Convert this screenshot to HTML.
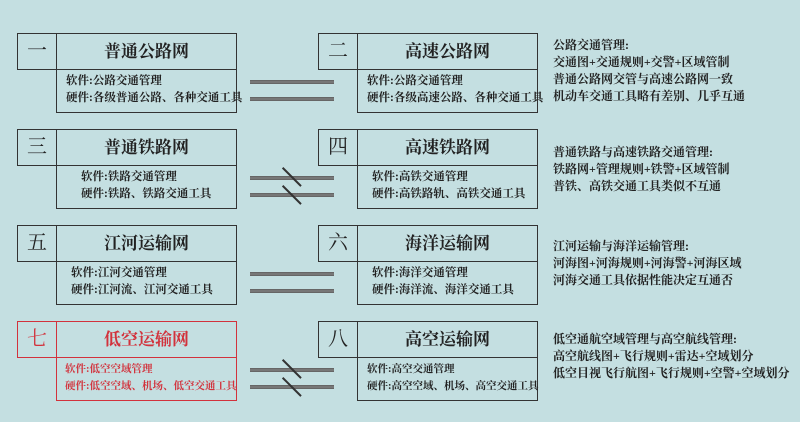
<!DOCTYPE html><html><head><meta charset="utf-8"><style>
body{margin:0;width:800px;height:422px;background:#c4dfe1;position:relative;overflow:hidden;font-family:"Liberation Serif","Noto Serif CJK SC",serif;color:#222}
.n{position:absolute;width:40px;height:37px;border:1.5px solid #333;box-sizing:border-box;font-size:20px;text-align:center;line-height:35px}
.h{position:absolute;width:181px;height:37px;border:1.5px solid #333;box-sizing:border-box;font-size:17px;font-weight:bold;text-align:center;line-height:35px}
.b{position:absolute;width:181px;height:44px;border:1.5px solid #333;border-top:none;box-sizing:border-box;font-size:11.5px;font-weight:bold;line-height:17px;padding:4px 0 0 9px;white-space:nowrap}
.r{color:#d2323c;border-color:#d2323c}
.l{position:absolute;left:250px;width:84px;height:4px;background:#777;border-top:1px solid #666;border-bottom:1px solid #666;box-sizing:border-box}
.s{position:absolute;width:26px;height:1.5px;background:#333;transform:rotate(45deg)}
.t{position:absolute;left:553px;font-size:12px;font-weight:bold;line-height:17px;white-space:nowrap}
</style></head><body>
<div class="n" style="left:17px;top:33px">一</div><div class="h" style="left:56px;top:33px">普通公路网</div>
<div class="b" style="left:56px;top:69px">软件:公路交通管理<br>硬件:各级普通公路、各种交通工具</div>
<div class="n" style="left:318px;top:33px">二</div><div class="h" style="left:357px;top:33px">高速公路网</div>
<div class="b" style="left:357px;top:69px">软件:公路交通管理<br>硬件:各级高速公路、各种交通工具</div>
<div class="l" style="top:80px"></div><div class="l" style="top:97px"></div>
<div class="n" style="left:17px;top:129px">三</div><div class="h" style="left:56px;top:129px">普通铁路网</div>
<div class="b" style="left:56px;top:165px;padding-left:24px">软件:铁路交通管理<br>硬件:铁路、铁路交通工具</div>
<div class="n" style="left:318px;top:129px">四</div><div class="h" style="left:357px;top:129px">高速铁路网</div>
<div class="b" style="left:357px;top:165px;padding-left:14px">软件:高铁交通管理<br>硬件:高铁路轨、高铁交通工具</div>
<div class="l" style="top:176px"></div><div class="l" style="top:193px"></div>
<div class="s" style="left:279px;top:176px"></div><div class="s" style="left:279px;top:194px"></div>
<div class="n" style="left:17px;top:225px">五</div><div class="h" style="left:56px;top:225px">江河运输网</div>
<div class="b" style="left:56px;top:261px;padding-left:14px">软件:江河交通管理<br>硬件:江河流、江河交通工具</div>
<div class="n" style="left:318px;top:225px">六</div><div class="h" style="left:357px;top:225px">海洋运输网</div>
<div class="b" style="left:357px;top:261px;padding-left:14px">软件:海洋交通管理<br>硬件:海洋流、海洋交通工具</div>
<div class="l" style="top:272px"></div><div class="l" style="top:289px"></div>
<div class="n r" style="left:17px;top:321px">七</div><div class="h r" style="left:56px;top:321px">低空运输网</div>
<div class="b r" style="left:56px;top:357px;font-size:10.5px;padding-left:8px">软件:低空空域管理<br>硬件:低空空域、机场、低空交通工具</div>
<div class="n" style="left:318px;top:321px">八</div><div class="h" style="left:357px;top:321px">高空运输网</div>
<div class="b" style="left:357px;top:357px;font-size:10.5px">软件:高空交通管理<br>硬件:高空空域、机场、高空交通工具</div>
<div class="l" style="top:368px"></div><div class="l" style="top:385px"></div>
<div class="s" style="left:279px;top:368px"></div><div class="s" style="left:279px;top:386px"></div>
<div class="t" style="top:37px">公路交通管理:<br>交通图+交通规则+交警+区域管制<br>普通公路网交管与高速公路网一致<br>机动车交通工具略有差别、几乎互通</div>
<div class="t" style="top:144px">普通铁路与高速铁路交通管理:<br>铁路网+管理规则+铁警+区域管制<br>普铁、高铁交通工具类似不互通</div>
<div class="t" style="top:238px">江河运输与海洋运输管理:<br>河海图+河海规则+河海警+河海区域<br>河海交通工具依据性能决定互通否</div>
<div class="t" style="top:331px">低空通航空域管理与高空航线管理:<br>高空航线图+飞行规则+雷达+空域划分<br>低空目视飞行航图+飞行规则+空警+空域划分</div>
</body></html>
